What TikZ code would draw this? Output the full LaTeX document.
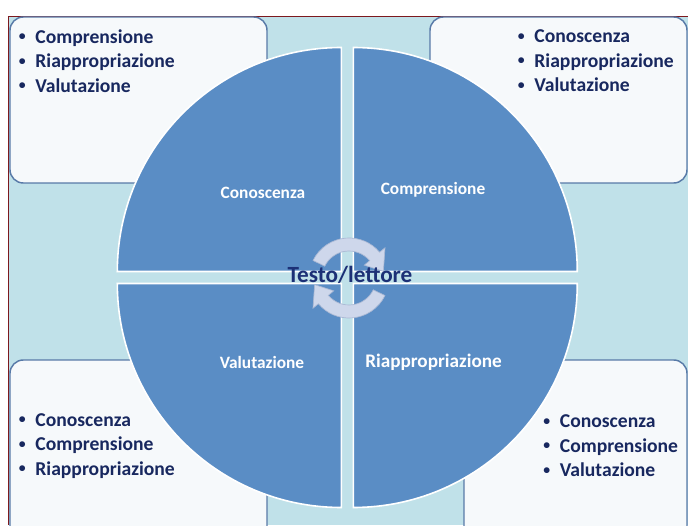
\documentclass[tikz,border=0pt]{standalone}
\usepackage{fontspec}
\setmainfont{Carlito}
\usepackage{xcolor}
\usepackage{tikz}
\usetikzlibrary{arrows.meta,positioning}

\definecolor{bgblue}{RGB}{192,225,233}
\definecolor{quadblue}{RGB}{90,141,197}
\definecolor{boxfill}{RGB}{246,249,251}
\definecolor{boxline}{RGB}{88,122,168}
\definecolor{navy}{RGB}{24,40,95}
\definecolor{ctext}{RGB}{28,48,118}
\definecolor{arrowfill}{RGB}{206,215,235}
\definecolor{arrowline}{RGB}{170,184,212}
\definecolor{framered}{RGB}{125,25,30}
\newcommand{\itm}[1]{\makebox[12.5pt][l]{\raisebox{0.13em}{\scalebox{0.7}{\textbullet}}}#1}

\begin{document}
\begin{tikzpicture}[x=0.75pt,y=0.75pt,>=Latex,
  corner/.style={draw=boxline,fill=boxfill,line width=1.1pt,rounded corners=10pt},
  quad/.style={fill=quadblue,draw=white,line width=1.2pt},
  qlabel/.style={text=white,font=\fontsize{13}{15}\selectfont\bfseries},
  blist/.style={text=navy,align=left,anchor=west,inner sep=0pt,
    font=\fontsize{14.7}{18.4}\selectfont\bfseries},
  cyc/.style={fill=arrowfill,draw=arrowline,line width=0.5pt}]
  \useasboundingbox (0,0) rectangle (688,525);
  \clip (0,0) rectangle (688,525);
  \fill[bgblue] (8.5,0) rectangle (688,508.5);
  \draw[framered,line width=0.8pt] (8.5,0) -- (8.5,508.5) -- (688,508.5);
  % corner boxes
  \draw[corner] (10,342) rectangle (267,508);
  \draw[corner] (430,342) rectangle (687,508);
  \draw[corner] (10,-20) rectangle (267,165);
  \draw[corner] (464,-20) rectangle (687,165);
  \node[blist] (tlList) at (18.5,464) {\itm{Comprensione}\\\itm{Riappropriazione}\\\itm{Valutazione}};
  \node[blist] (trList) at (517.5,464) {\itm{Conoscenza}\\\itm{Riappropriazione}\\\itm{Valutazione}};
  \node[blist] (blList) at (18.5,79) {\itm{Conoscenza}\\\itm{Comprensione}\\\itm{Riappropriazione}};
  \node[blist] (brList) at (543,79) {\itm{Conoscenza}\\\itm{Comprensione}\\\itm{Valutazione}};
  % pie quadrants
  \coordinate (c) at (347.3,247.5);
  \foreach \a/\dx/\dy in {0/6/6,90/-6/6,180/-6/-6,270/6/-6}
    \draw[quad] ([shift={(\dx,\dy)}]c) -- ++(\a:224) arc[start angle=\a,delta angle=90,radius=224] -- cycle;
  \node[qlabel] (kno) at (263,332) {Conoscenza};
  \node[qlabel] (com) at (433,335) {Comprensione};
  \node[qlabel] (val) at (262,163) {Valutazione};
  \node[qlabel,font=\fontsize{14.4}{16}\selectfont\bfseries] (ria) at (433.5,163) {Riappropriazione};
  % cycle arrows
  \foreach \r in {0,180}
    \draw[cyc,shift={(349,247)},rotate=\r] (154:40) arc[start angle=154,end angle=40,radius=40]
      -- (40:47) -- (11:35) -- (40:20) -- (40:27) arc[start angle=40,end angle=154,radius=27] -- cycle;
  \node[text=ctext,font=\fontsize{17.4}{20}\selectfont\bfseries] (tl) at (350,250) {Testo/lettore};
\end{tikzpicture}
\end{document}
